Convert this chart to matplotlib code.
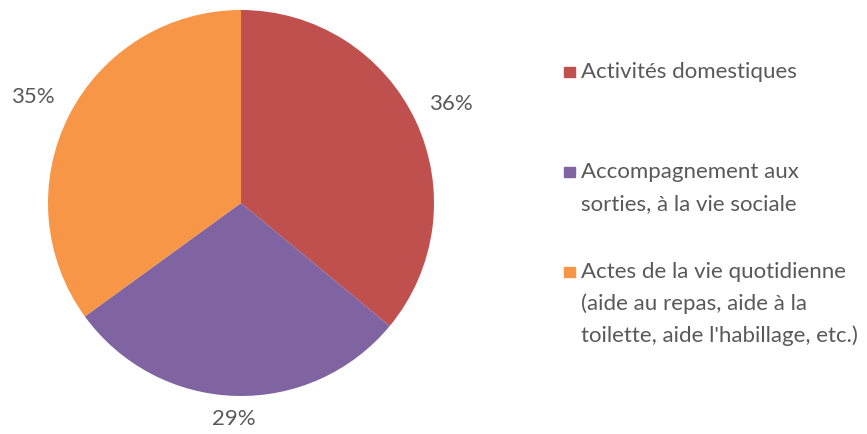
import numpy as np
import matplotlib.pyplot as plt
from matplotlib.patches import Rectangle

# data
categories = ["Activités domestiques",
              "Accompagnement aux\nsorties, à la vie sociale",
              "Actes de la vie quotidienne\n(aide au repas, aide à la\ntoilette, aide l'habillage, etc.)"]
values = [36, 29, 35]
colors = ['#C0504D', '#8064A2', '#F79646']

W, H = 867, 434
fig = plt.figure(figsize=(W / 100, H / 100), dpi=100)
plt.rcParams['font.family'] = ['Lato', 'DejaVu Sans']
txt_color = '#595959'
fs = 16

# pie axes: center (241, 203), radius 193 in pixels
cx, cy, r = 241, 203, 193
ax = fig.add_axes([(cx - r) / W, (H - cy - r) / H, 2 * r / W, 2 * r / H])
wedges, _ = ax.pie(values, colors=colors, startangle=90, counterclock=False,
                   radius=1, wedgeprops=dict(linewidth=0))
ax.set_xlim(-1, 1)
ax.set_ylim(-1, 1)
ax.set_aspect('equal')
ax.axis('off')

# percentage labels outside the slices
dist = [1.20, 1.12, 1.21]
for w, v, d in zip(wedges, values, dist):
    ang = np.deg2rad((w.theta1 + w.theta2) / 2)
    ax.text(d * np.cos(ang), d * np.sin(ang), f"{v}%", ha='center', va='center',
            fontsize=fs, color=txt_color, clip_on=False)

# legend drawn by hand
line_h = 32
y_top = [72, 172, 272]
for lab, c, y in zip(categories, colors, y_top):
    fig.patches.append(Rectangle((564 / W, (H - y - 5) / H), 11 / W, 10 / H,
                                 transform=fig.transFigure, color=c))
    for i, line in enumerate(lab.split('\n')):
        fig.text(581 / W, (H - y - i * line_h) / H, line, ha='left', va='center',
                 fontsize=fs, color=txt_color)

plt.savefig("out.png", dpi=100)
